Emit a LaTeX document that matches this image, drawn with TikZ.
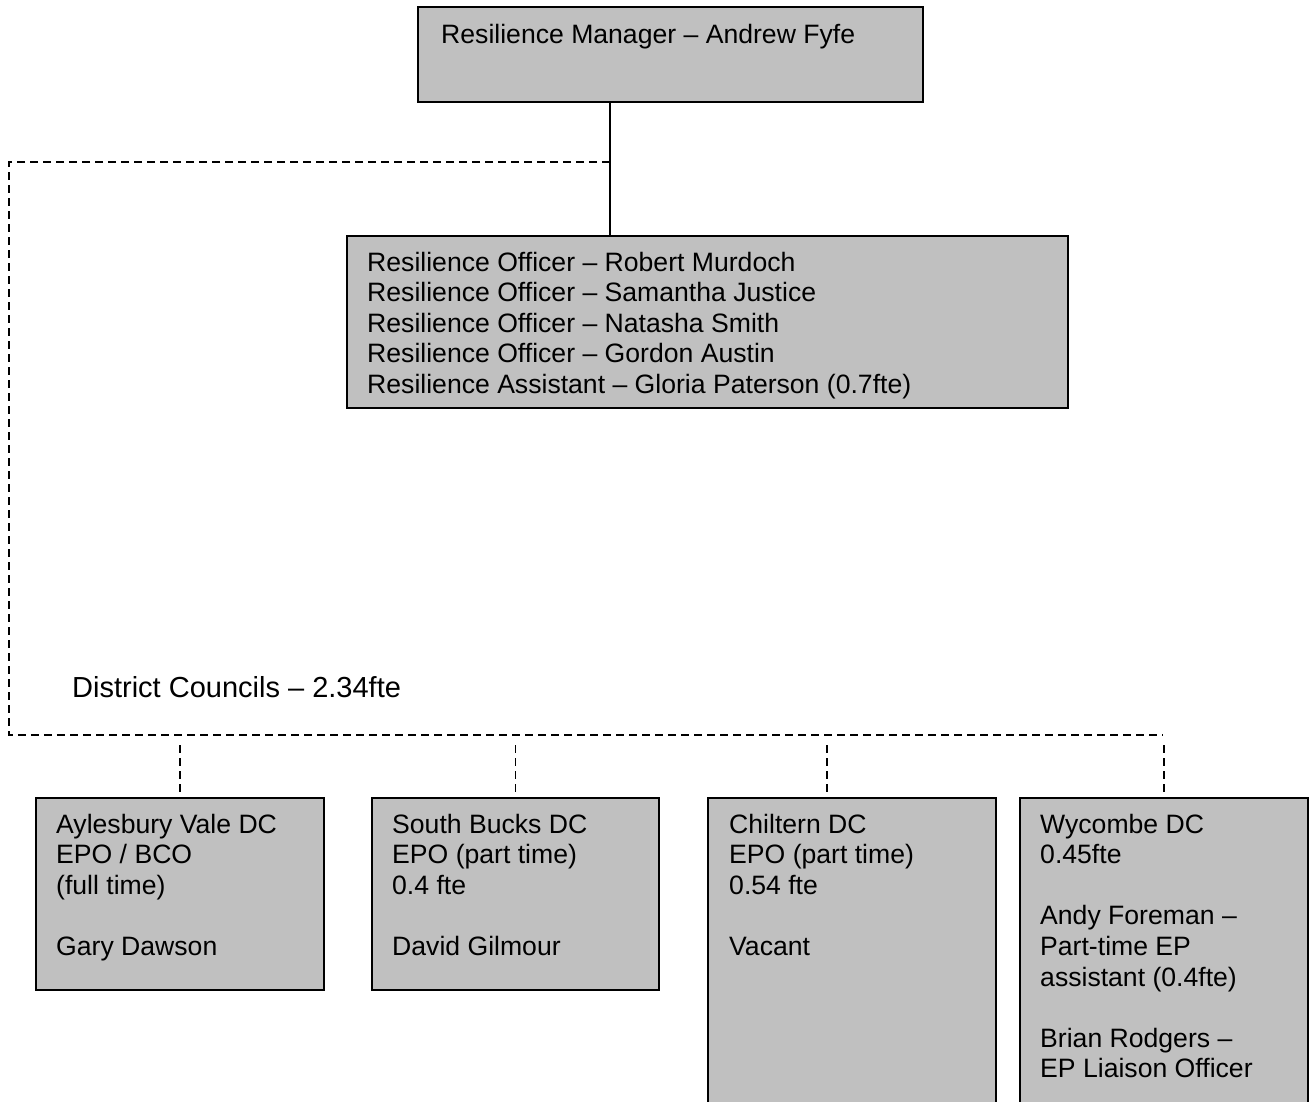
\documentclass[tikz,border=0pt]{standalone}
\usepackage{fontspec}
\setmainfont{Liberation Sans}
\definecolor{boxgray}{RGB}{192,192,192}
\newcommand{\lns}[1]{\begin{tabular}[t]{@{}l@{}}#1\end{tabular}}
\begin{document}
\begin{tikzpicture}[x=1pt,y=-1pt,
  box/.style={draw=black, fill=boxgray, line width=2pt, anchor=north west, inner sep=0pt},
  txt/.style={anchor=base west, inner sep=0pt, font=\fontsize{26.6}{30.6}\selectfont},
  bigtxt/.style={txt, font=\fontsize{29}{33}\selectfont},
  solidline/.style={draw=black, line width=2pt},
  dashline/.style={draw=black, line width=1.8pt, dash pattern=on 8pt off 5pt}]
\useasboundingbox (0,0) rectangle (1311,1101);
\clip (0,0) rectangle (1311,1101);
% boxes
\node[box, minimum width=505pt, minimum height=95pt] (mgr) at (417,6) {};
\node[box, minimum width=721pt, minimum height=172pt] (off) at (346,235) {};
\node[box, minimum width=288pt, minimum height=192pt] (ayl) at (35,797) {};
\node[box, minimum width=287pt, minimum height=192pt] (sbk) at (371,797) {};
\node[box, minimum width=288pt, minimum height=330pt] (chi) at (707,797) {};
\node[box, minimum width=288pt, minimum height=330pt] (wyc) at (1019,797) {};
% texts
\node[txt] (mgrT) at (441,43) {Resilience Manager – Andrew Fyfe};
\node[txt] (offT) at (367,271) {\lns{Resilience Officer – Robert Murdoch\\
Resilience Officer – Samantha Justice\\
Resilience Officer – Natasha Smith\\
Resilience Officer – Gordon Austin\\
Resilience Assistant – Gloria Paterson (0.7fte)}};
\node[bigtxt] (dcT) at (72,697) {District Councils – 2.34fte};
\node[txt] (aylT) at (56,833) {\lns{Aylesbury Vale DC\\EPO / BCO\\(full time)\\ \\Gary Dawson}};
\node[txt] (sbkT) at (392,833) {\lns{South Bucks DC\\EPO (part time)\\0.4 fte\\ \\David Gilmour}};
\node[txt] (chiT) at (729,833) {\lns{Chiltern DC\\EPO (part time)\\0.54 fte\\ \\Vacant}};
\node[txt] (wycT) at (1040,833) {\lns{Wycombe DC\\0.45fte\\ \\Andy Foreman –\\Part-time EP\\assistant (0.4fte)\\ \\Brian Rodgers –\\EP Liaison Officer}};
% connectors
\coordinate (j) at (610,162);
\coordinate (c1) at (9,162);
\coordinate (c2) at (9,735);
\coordinate (c3) at (1163,735);
\draw[solidline] (j |- mgr.south) -- (j |- off.north);
\draw[dashline] (j) -- (c1) -- (c2) -- (c3);
\draw[dashline] (ayl.north |- 0,745) -- (ayl.north);
\draw[dashline] (sbk.north |- 0,745) -- (sbk.north);
\draw[dashline] (827,745) -- (chi.north -| 827,0);
\draw[dashline] (wyc.north |- 0,745) -- (wyc.north);
\end{tikzpicture}
\end{document}
